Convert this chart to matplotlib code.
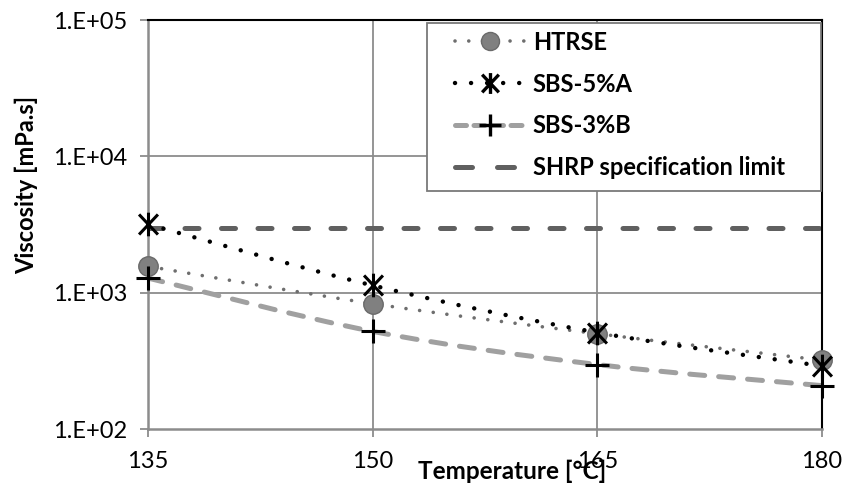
import numpy as np
import matplotlib
matplotlib.use("Agg")
import matplotlib.pyplot as plt
from matplotlib.path import Path
from matplotlib.patches import PathPatch, Rectangle
from matplotlib.lines import Line2D

temperature = [135, 150, 165, 180]
htrse = [1560, 830, 500, 320]
sbs5a = [3170, 1130, 510, 290]
sbs3b = [1280, 520, 297, 208]
shrp_limit = 3000
series_names = ["HTRSE", "SBS-5%A", "SBS-3%B", "SHRP specification limit"]
ytick_vals = [1e2, 1e3, 1e4, 1e5]
ytick_labels = ["1.E+02", "1.E+03", "1.E+04", "1.E+05"]
xtick_vals = [135, 150, 165, 180]

FONT = ["Lato", "DejaVu Sans"]
plt.rcParams["font.family"] = FONT

W, H = 843, 484
fig = plt.figure(figsize=(W / 100, H / 100), dpi=100)
L, R, T, B = 148, 822, 20, 429
ax = fig.add_axes([L / W, 1 - B / H, (R - L) / W, (B - T) / H])
ax.set_yscale("log")
ax.set_xlim(135, 180)
ax.set_ylim(1e2, 1e5)

grid_c = "#8c8c8c"
for v in ytick_vals[1:]:
    ax.axhline(v, color=grid_c, lw=1.3, zorder=0)
for v in xtick_vals[1:]:
    ax.axvline(v, color=grid_c, lw=1.3, zorder=0)

ax.set_yticks(ytick_vals)
ax.set_yticklabels(ytick_labels)
ax.set_xticks(xtick_vals)
ax.set_xticklabels([str(v) for v in xtick_vals])
ax.yaxis.set_minor_locator(matplotlib.ticker.NullLocator())
ax.tick_params(axis="both", direction="out", length=6, width=1.3, color=grid_c,
               labelsize=17, labelcolor="black")
ax.tick_params(axis="y", pad=9)
ax.tick_params(axis="x", pad=10)

for s in ["left", "bottom"]:
    ax.spines[s].set_color(grid_c)
    ax.spines[s].set_linewidth(1.8)
for s in ["top", "right"]:
    ax.spines[s].set_color("black")
    ax.spines[s].set_linewidth(1.5)


def smooth_path(xs, ys):
    # Bezier (Excel-like smoothed line) through the data points, built in (x, log y)
    px = np.asarray(xs, float)
    py = np.log10(np.asarray(ys, float))
    n = len(px)
    verts = [(px[0], py[0])]
    codes = [Path.MOVETO]
    for i in range(n - 1):
        i0 = max(i - 1, 0)
        i3 = min(i + 2, n - 1)
        c1 = (px[i] + (px[i + 1] - px[i0]) / 6, py[i] + (py[i + 1] - py[i0]) / 6)
        c2 = (px[i + 1] - (px[i3] - px[i]) / 6, py[i + 1] - (py[i3] - py[i]) / 6)
        verts += [c1, c2, (px[i + 1], py[i + 1])]
        codes += [Path.CURVE4] * 3
    verts = [(x, 10 ** y) for x, y in verts]
    return Path(verts, codes)


def add_curve(xs, ys, color, lw, dashes, z):
    p = PathPatch(smooth_path(xs, ys), facecolor="none", edgecolor=color, lw=lw,
                  linestyle=(0, dashes), capstyle="round", zorder=z)
    ax.add_patch(p)


# asterisk marker: X plus vertical bar
ASTER = Path([(0, -1.0), (0, 1.0), (-0.8, -0.85), (0.8, 0.85), (-0.8, 0.85), (0.8, -0.85)],
             [Path.MOVETO, Path.LINETO, Path.MOVETO, Path.LINETO, Path.MOVETO, Path.LINETO])

# SHRP limit
ax.plot([135, 180], [shrp_limit, shrp_limit], color="#606060", lw=3.6,
        linestyle=(0, (2.8, 4.5)), dash_capstyle="round", zorder=2)

# curves
add_curve(temperature, sbs3b, "#a0a0a0", 3.6, (3.0, 2.8), 3)
add_curve(temperature, htrse, "#6e6e6e", 2.6, (0.01, 3.8), 4)
add_curve(temperature, sbs5a, "black", 3.2, (0.01, 3.6), 5)

# markers
ax.plot(temperature, htrse, linestyle="none", marker="o", ms=14, mfc="#808080",
        mec="#6a6a6a", mew=1.0, zorder=6, clip_on=False)
ax.plot(temperature, sbs5a, linestyle="none", marker=ASTER, ms=17, mfc="none",
        mec="black", mew=2.2, zorder=7, clip_on=False)
ax.plot(temperature, sbs3b, linestyle="none", marker="+", ms=17, mec="black",
        mew=2.2, zorder=7, clip_on=False)

# legend frame (drawn as a box in figure pixels)
frame = Rectangle((427 / W, 1 - 191 / H), (821 - 427) / W, (191 - 23) / H,
                  transform=fig.transFigure, facecolor="white", edgecolor="#7a7a7a",
                  lw=1.3, zorder=9)
fig.add_artist(frame)

h1 = Line2D([], [], color="#6e6e6e", lw=2.6, linestyle=(0, (0.01, 3.8)),
            dash_capstyle="round", marker="o", ms=13, mfc="#808080", mec="#6a6a6a")
h2 = Line2D([], [], color="black", lw=3.2, linestyle=(0, (0.01, 3.6)),
            dash_capstyle="round", marker=ASTER, ms=15, mfc="none", mec="black", mew=2.4)
h3 = Line2D([], [], color="#a0a0a0", lw=3.6, linestyle=(0, (2.2, 1.5)),
            dash_capstyle="round", marker="+", ms=16, mec="black", mew=2.4)
h4 = Line2D([], [], color="#606060", lw=3.6, linestyle=(0, (3.4, 5.0)),
            dash_capstyle="round")
leg = fig.legend([h1, h2, h3, h4], series_names, loc="upper left",
                 bbox_to_anchor=(450 / W, 1 - 26 / H), bbox_transform=fig.transFigure,
                 prop={"family": FONT, "weight": "bold", "size": 17},
                 frameon=False, handlelength=3.0, handletextpad=0.3,
                 labelspacing=0.8, borderpad=0.2, borderaxespad=0)
leg.set_zorder(10)

# axis titles
fig.text(26 / W, 1 - 185 / H, "Viscosity [mPa.s]", rotation=90, ha="center",
         va="center", fontsize=17, fontweight="bold", family=FONT)
fig.text(512 / W, 1 - 471 / H, "Temperature [\u00b0C]", ha="center", va="center",
         fontsize=17.5, fontweight="bold", family=FONT)

fig.savefig("out.png", dpi=100)
